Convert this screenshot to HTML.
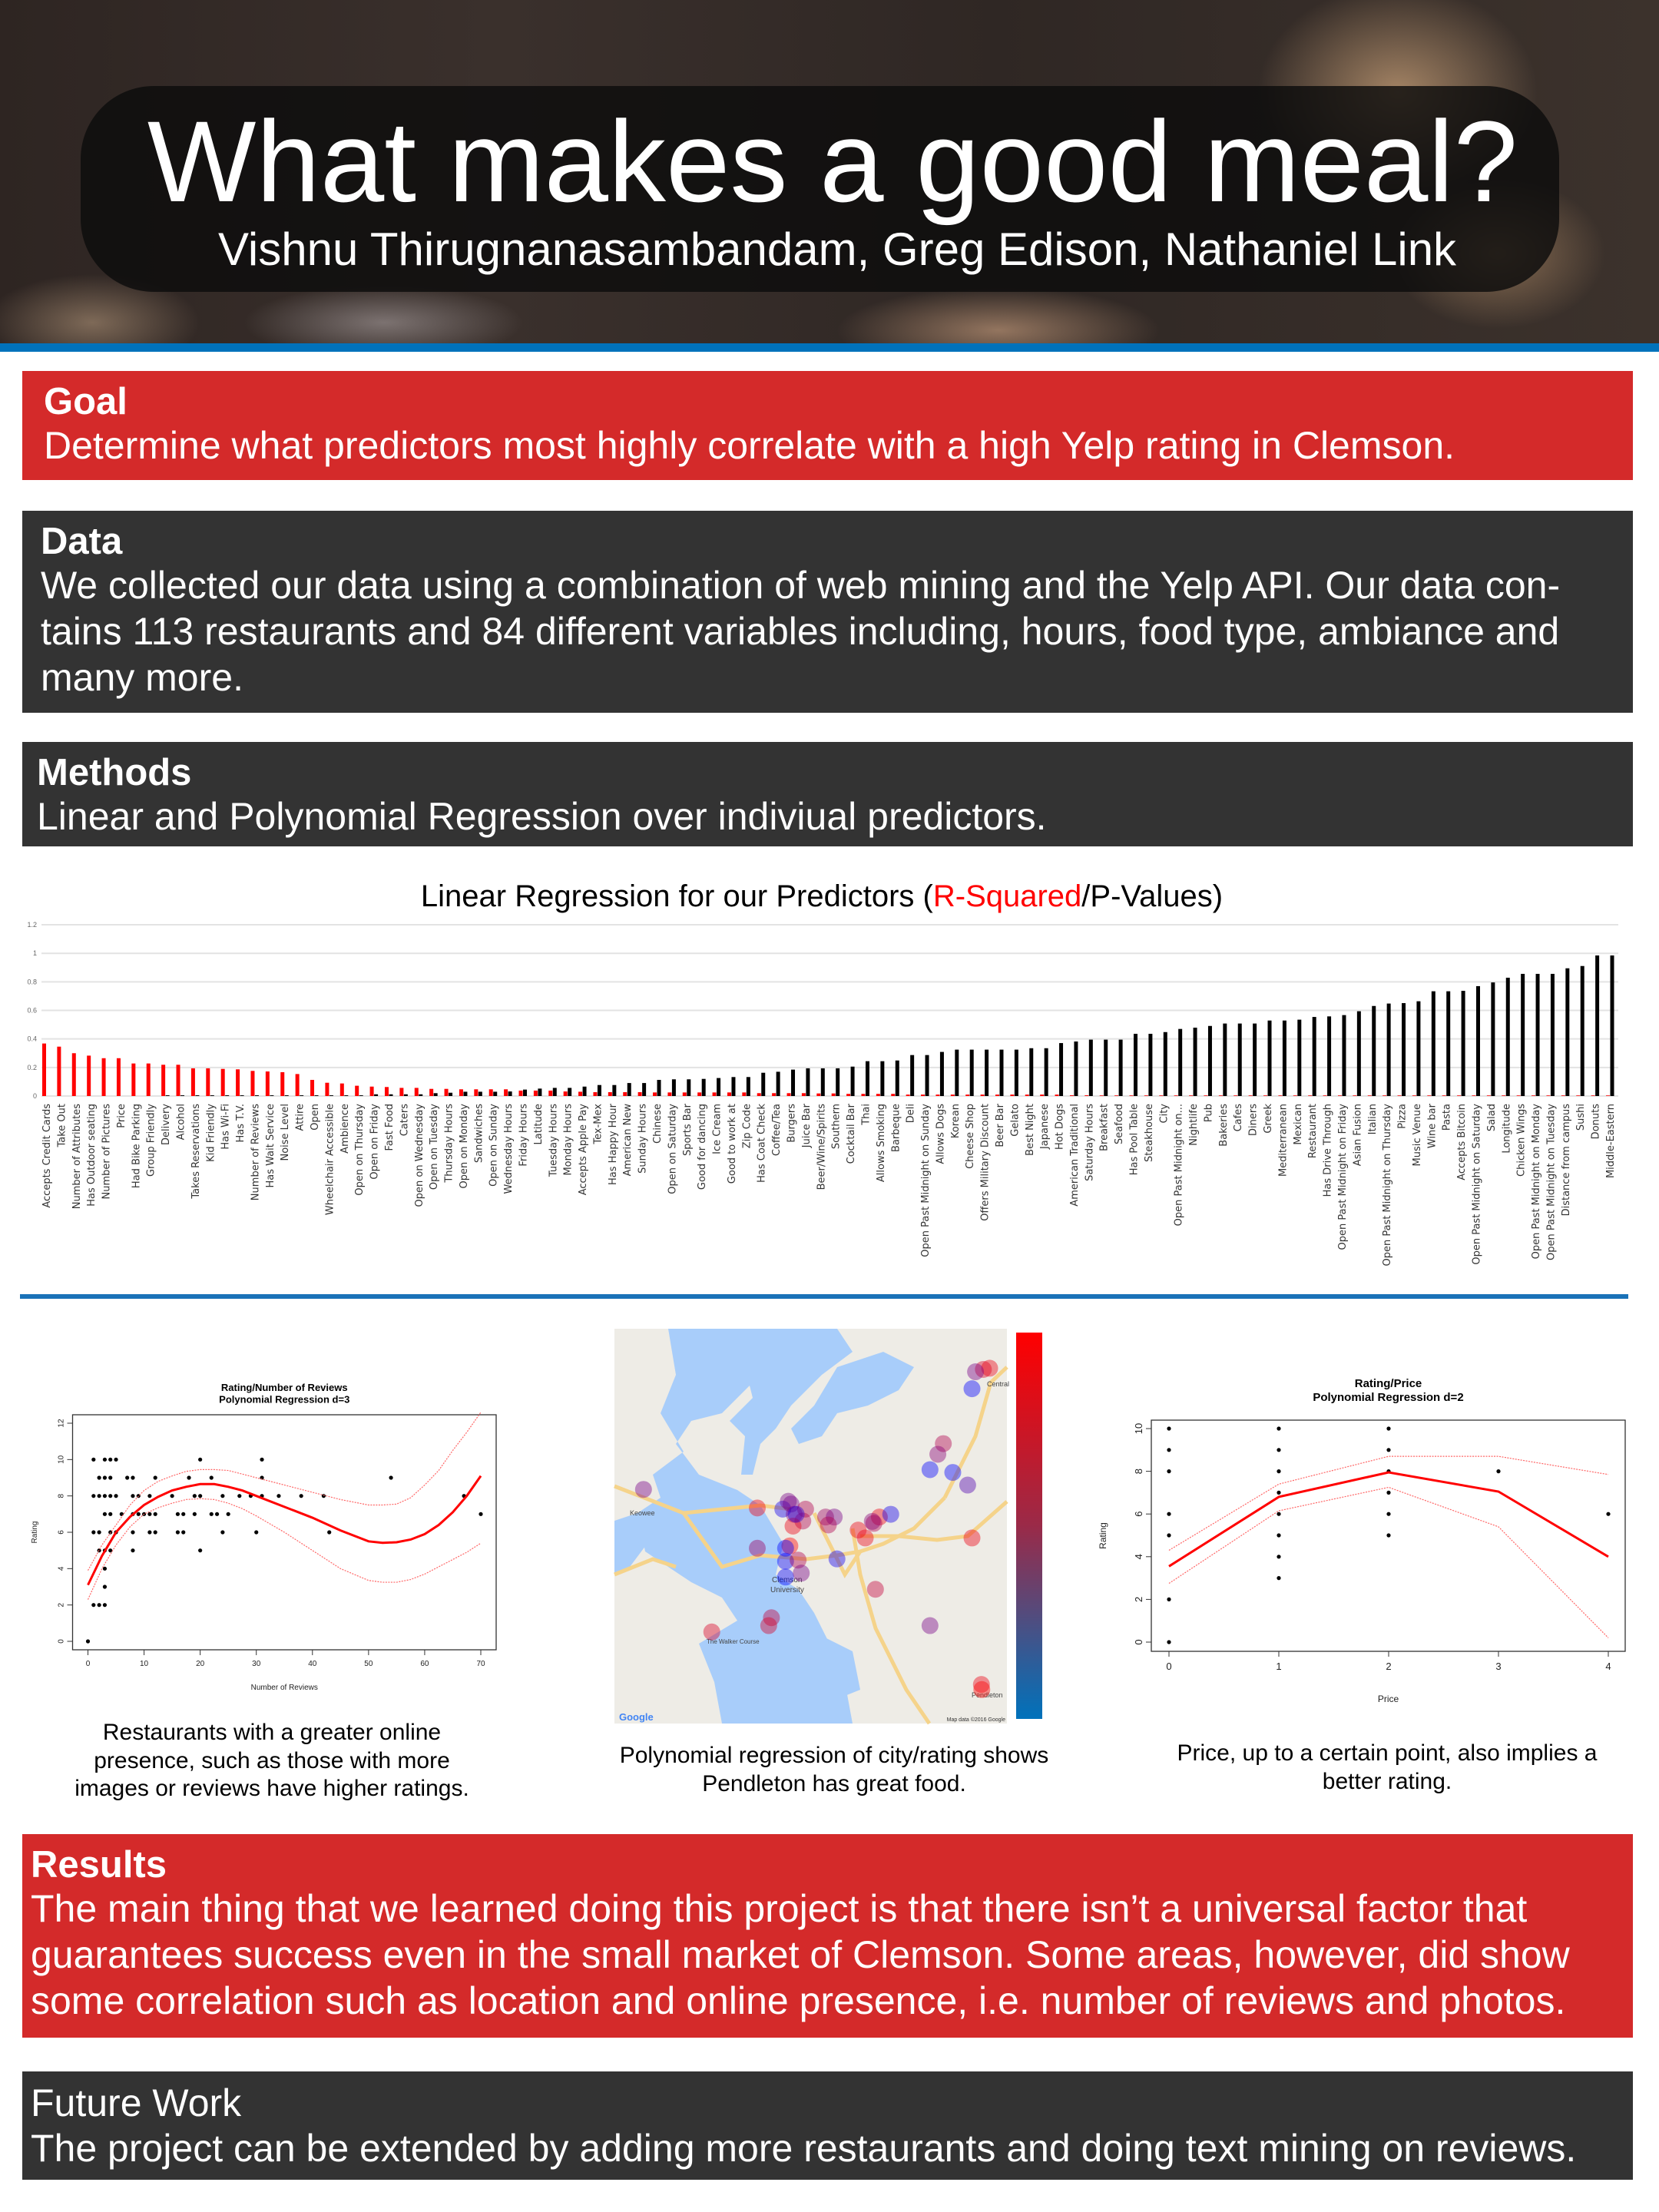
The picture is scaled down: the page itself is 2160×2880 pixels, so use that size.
<!DOCTYPE html>
<html><head><meta charset="utf-8">
<style>
*{margin:0;padding:0;box-sizing:border-box}
body{width:2160px;height:2880px;background:#fff;position:relative;overflow:hidden;font-family:"Liberation Sans",Arial,sans-serif}
.abs{position:absolute}
.hdr{left:0;top:0;width:2160px;height:447px;background:
radial-gradient(ellipse 260px 200px at 1820px 120px,rgba(200,160,120,.75),rgba(0,0,0,0) 70%),
radial-gradient(ellipse 200px 140px at 1950px 330px,rgba(190,150,110,.6),rgba(0,0,0,0) 70%),
radial-gradient(ellipse 300px 80px at 1300px 430px,rgba(190,150,120,.7),rgba(0,0,0,0) 70%),
radial-gradient(ellipse 260px 70px at 500px 420px,rgba(170,160,160,.6),rgba(0,0,0,0) 70%),
radial-gradient(ellipse 200px 90px at 120px 420px,rgba(190,160,130,.55),rgba(0,0,0,0) 70%),
linear-gradient(90deg,#2e2522 0%,#3a302c 30%,#2f2724 60%,#3c322c 100%)}
.stripe{left:0;top:447px;width:2160px;height:11px;background:#0072bb}
.tbox{left:105px;top:112px;width:1925px;height:268px;border-radius:95px;background:rgba(12,12,12,.82)}
.title{left:0;width:2160px;text-align:center;color:#fff;white-space:nowrap}
.sec{left:29px;width:2097px;color:#fff;white-space:nowrap}
.red{background:#d42a2a}
.dark{background:#333333}
.sec div{position:absolute;left:0}
.h{font-weight:bold;font-size:49px}
.t{font-size:50px}
.cap{font-size:30px;color:#000;text-align:center;white-space:nowrap;line-height:36.5px}
</style></head>
<body>
<div class="abs hdr"></div>
<div class="abs stripe"></div>
<div class="abs tbox"></div>
<div class="abs title" style="top:124px;font-size:150px;left:4px">What makes a good meal?</div>
<div class="abs title" style="top:290px;font-size:60px;left:10px">Vishnu Thirugnanasambandam, Greg Edison, Nathaniel Link</div>

<div class="abs sec red" style="top:483px;height:142px">
<div class="h" style="left:28px;top:12px">Goal</div>
<div class="t" style="left:28px;top:68px">Determine what predictors most highly correlate with a high Yelp rating in Clemson.</div>
</div>

<div class="abs sec dark" style="top:665px;height:263px">
<div class="h" style="left:24px;top:12px">Data</div>
<div class="t" style="left:24px;top:68px">We collected our data using a combination of web mining and the Yelp API. Our data con-</div>
<div class="t" style="left:24px;top:128px">tains 113 restaurants and 84 different variables including, hours, food type, ambiance and</div>
<div class="t" style="left:24px;top:188px">many more.</div>
</div>

<div class="abs sec dark" style="top:966px;height:136px">
<div class="h" style="left:19px;top:12px">Methods</div>
<div class="t" style="left:19px;top:68px">Linear and Polynomial Regression over indiviual predictors.</div>
</div>

<div class="abs" style="left:0;top:1145px;width:2140px;text-align:center;font-size:40px;white-space:nowrap">Linear Regression for our Predictors (<span style="color:#f00">R-Squared</span>/P-Values)</div>

<svg class="abs" id="bar" style="left:0;top:1180px" width="2160" height="500"></svg>

<div class="abs" style="left:26px;top:1685px;width:2094px;height:6px;background:#1a72b8"></div>

<svg class="abs" id="sc1" style="left:0;top:1780px" width="700" height="430"></svg>
<svg class="abs" id="map" style="left:790px;top:1720px" width="580" height="530"></svg>
<svg class="abs" id="sc2" style="left:1400px;top:1770px" width="740" height="480"></svg>

<div class="abs cap" style="left:84px;width:540px;top:2238px">Restaurants with a greater online<br>presence, such as those with more<br>images or reviews have higher ratings.</div>
<div class="abs cap" style="left:776px;width:620px;top:2268px">Polynomial regression of city/rating shows<br>Pendleton has great food.</div>
<div class="abs cap" style="left:1496px;width:620px;top:2265px">Price, up to a certain point, also implies a<br>better rating.</div>

<div class="abs sec red" style="top:2388px;height:265px">
<div class="h" style="left:11px;top:12px">Results</div>
<div class="t" style="left:11px;top:68px">The main thing that we learned doing this project is that there isn’t a universal factor that</div>
<div class="t" style="left:11px;top:128px">guarantees success even in the small market of Clemson. Some areas, however, did show</div>
<div class="t" style="left:11px;top:188px">some correlation such as location and online presence, i.e. number of reviews and photos.</div>
</div>

<div class="abs sec dark" style="top:2697px;height:141px">
<div class="t" style="left:11px;top:12px">Future Work</div>
<div class="t" style="left:11px;top:71px">The project can be extended by adding more restaurants and doing text mining on reviews.</div>
</div>

<script>
const cats=["Accepts Credit Cards","Take Out","Number of Attributes","Has Outdoor seating","Number of Pictures","Price","Had Bike Parking","Group Friendly","Delivery","Alcohol","Takes Reservations","Kid Friendly","Has Wi-Fi","Has T.V.","Number of Reviews","Has Wait Service","Noise Level","Attire","Open","Wheelchair Accessible","Ambience","Open on Thursday","Open on Friday","Fast Food","Caters","Open on Wednesday","Open on Tuesday","Thursday Hours","Open on Monday","Sandwiches","Open on Sunday","Wednesday Hours","Friday Hours","Latitude","Tuesday Hours","Monday Hours","Accepts Apple Pay","Tex-Mex","Has Happy Hour","American New","Sunday Hours","Chinese","Open on Saturday","Sports Bar","Good for dancing","Ice Cream","Good to work at","Zip Code","Has Coat Check","Coffee/Tea","Burgers","Juice Bar","Beer/Wine/Spirits","Southern","Cocktail Bar","Thai","Allows Smoking","Barbeque","Deli","Open Past Midnight on Sunday","Allows Dogs","Korean","Cheese Shop","Offers Military Discount","Beer Bar","Gelato","Best Night","Japanese","Hot Dogs","American Traditional","Saturday Hours","Breakfast","Seafood","Has Pool Table","Steakhouse","City","Open Past Midnight on...","Nightlife","Pub","Bakeries","Cafes","Diners","Greek","Mediterranean","Mexican","Restaurant","Has Drive Through","Open Past Midnight on Friday","Asian Fusion","Italian","Open Past Midnight on Thursday","Pizza","Music Venue","Wine bar","Pasta","Accepts Bitcoin","Open Past Midnight on Saturday","Salad","Longitude","Chicken Wings","Open Past Midnight on Monday","Open Past Midnight on Tuesday","Distance from campus","Sushi","Donuts","Middle-Eastern"];
const rsq=[.368,.346,.30,.283,.265,.265,.228,.228,.219,.219,.194,.194,.19,.187,.176,.172,.167,.154,.113,.093,.088,.072,.066,.063,.057,.057,.05,.05,.047,.047,.047,.047,.038,.038,.038,.032,
.03,.027,.027,.027,.027,.025,.025,.025,.025,.025,.025,.025,.02,.02,.02,.02,.018,.018,.015,.015,.015,.015,.01,.01,.01,.01,.01,.01,.01,.01,.01,.01,.01,.005,.005,
.004,.004,.004,.004,.004,.004,.004,.004,.004,.004,.004,.004,.004,.004,.004,.004,.004,.004,.004,.004,.004,.004,.004,.004,.004,.004,.004,.004,.004,.004,.004,.004,.004,.004,.004];
const pval=[0,0,0,0,0,0,0,0,.005,.005,.005,.005,.005,.005,.005,.005,.005,.005,.005,.005,.005,.005,.012,.012,.012,.012,.02,.023,.03,.03,.03,.032,.045,.052,.057,.057,
.066,.077,.077,.091,.091,.113,.117,.117,.12,.126,.133,.133,.163,.17,.185,.194,.194,.194,.206,.244,.244,.249,.287,.287,.309,.325,.325,.325,.325,.325,.335,.335,.371,.382,.395,
.395,.395,.436,.436,.448,.47,.479,.491,.508,.508,.508,.529,.529,.535,.554,.558,.567,.594,.631,.648,.651,.664,.734,.734,.737,.77,.796,.829,.856,.856,.856,.895,.911,.985,.985];
const barTicks=["0","0.2","0.4","0.6","0.8","1","1.2"];

const reviewsX=[0,1,1,1,1,2,2,2,2,2,3,3,3,3,3,3,3,3,4,4,4,4,4,4,5,5,5,6,7,8,8,8,8,8,9,9,10,11,11,11,12,12,12,15,16,16,17,17,18,19,19,20,20,20,22,22,23,24,24,25,27,29,30,31,31,31,34,38,42,43,54,67,70];
const reviewsY=[0,10,8,6,2,9,8,6,5,2,10,9,8,7,5,4,3,2,10,9,8,7,6,5,10,8,6,7,9,9,8,7,6,5,8,7,7,8,7,6,9,7,6,8,7,6,7,6,9,8,7,10,8,5,9,7,7,8,6,7,8,8,6,10,9,8,8,8,8,6,9,8,7];
const fitX=[0,2.5,5,7.5,10,12.5,15,17.5,20,22.5,25,27.5,30,35,40,45,50,52.5,55,57.5,60,62.5,65,67.5,70];
const fitY=[3.1,4.7,6.0,6.85,7.5,7.95,8.3,8.5,8.65,8.65,8.5,8.3,8.0,7.4,6.8,6.1,5.5,5.42,5.45,5.6,5.9,6.4,7.1,8.0,9.1];
const upY=[3.9,5.3,6.4,7.5,8.3,8.8,9.1,9.35,9.45,9.45,9.4,9.2,9.0,8.6,8.2,7.8,7.5,7.5,7.55,7.9,8.6,9.4,10.5,11.5,12.6];
const loY=[2.3,4.0,5.3,6.3,7.0,7.35,7.6,7.8,7.85,7.8,7.6,7.3,6.9,6.0,5.0,4.0,3.35,3.25,3.25,3.4,3.7,4.1,4.5,4.9,5.4];
const revTicksX=[0,10,20,30,40,50,60,70];
const ratTicks1=[0,2,4,6,8,10,12];

const priceX=[0,0,0,0,0,0,0,1,1,1,1,1,1,1,1,2,2,2,2,2,2,3,4];
const priceY=[10,9,8,6,5,2,0,10,9,8,7,6,5,4,3,10,9,8,7,6,5,8,6];
const pFitX=[0,1,2,3,4];
const pFitY=[3.55,6.8,7.95,7.05,4.0];
const pUpY=[4.3,7.4,8.7,8.7,7.85];
const pLoY=[2.75,6.15,7.25,5.4,0.2];
const priceTicks=[0,1,2,3,4];
const ratTicks2=[0,2,4,6,8,10];

const mapU=[.94,.956,.92,.911,.838,.824,.804,.862,.900,.074,.364,.429,.45,.458,.443,.487,.48,.455,.538,.56,.545,.621,.639,.675,.661,.704,.911,.447,.436,.364,.436,.468,.436,.476,.567,.665,.400,.393,.248,.804,.935,.936,.463,.657];
const mapV=[.103,.10,.109,.152,.291,.318,.357,.364,.396,.407,.454,.457,.444,.47,.437,.457,.487,.5,.477,.477,.497,.51,.53,.477,.493,.47,.53,.55,.556,.556,.589,.586,.629,.619,.583,.660,.732,.752,.768,.752,.901,.914,.470,.488];
const mapRating=[8.5,9,6,3,7.5,6.5,3,3,5,6,9,3.5,6,6,6,7.5,7.5,9,7,6,7.5,9,9,9,7.5,3.5,9,9.5,3,7,3,7.5,3,6,3.5,8,8,8.5,8.5,6,9,9.5,4,6.5];

const NS='http://www.w3.org/2000/svg';
function mk(p,t,a){const e=document.createElementNS(NS,t);for(const k in a)e.setAttribute(k,a[k]);p.appendChild(e);return e;}

// ---- bar chart ----
(function(){
const s=document.getElementById('bar');
const y0=247,yPer=185.8;
const yS=v=>y0-v*yPer;
const xS=i=>60+i*(2036/(cats.length-1));
barTicks.forEach((t,i)=>{const v=i*0.2;
 const g=mk(s,'line',{x1:54,x2:2107,y1:yS(v),y2:yS(v),stroke:'#e3e3e3','stroke-width':2});
 
 
 const tx=mk(s,'text',{x:48,y:yS(v)+3,'font-size':9,fill:'#666','text-anchor':'end','font-family':'Liberation Sans, sans-serif'});
 tx.textContent=t;
 
 
});
cats.forEach((c,i)=>{const x=xS(i);
 const r=mk(s,'rect',{x:x-5,y:yS(rsq[i]),width:5,height:Math.max(0,rsq[i]*yPer),fill:'#ff0000'});
 
 
 const b=mk(s,'rect',{x:x+0.5,y:yS(pval[i]),width:5,height:Math.max(0,pval[i]*yPer),fill:'#000'});
 
 
 const t=mk(s,'text',{x:0,y:0,transform:`translate(${x+5},${y0+10}) rotate(-90)`,'font-size':13,fill:'#333','text-anchor':'end','font-family':'DejaVu Sans, Liberation Sans, sans-serif'});
 t.textContent=c;
 
 
});
})();

// ---- generic R-style scatter ----
function rplot(id,o){
const s=document.getElementById(id);
const xS=v=>o.x0+(v-o.xmin)/(o.xmax-o.xmin)*(o.x1-o.x0);
const yS=v=>o.y0-(v-o.ymin)/(o.ymax-o.ymin)*(o.y0-o.y1);
const F='Liberation Sans, sans-serif';
let t=mk(s,'text',{x:(o.bx0+o.bx1)/2,y:o.ty,'font-size':o.tfs,'font-weight':'bold','text-anchor':'middle','font-family':F});t.textContent=o.t1;


t=mk(s,'text',{x:(o.bx0+o.bx1)/2,y:o.ty+o.tfs*1.2,'font-size':o.tfs,'font-weight':'bold','text-anchor':'middle','font-family':F});t.textContent=o.t2;


const bx=mk(s,'rect',{x:o.bx0,y:o.by0,width:o.bx1-o.bx0,height:o.by1-o.by0,fill:'none',stroke:'#333','stroke-width':1.3});


o.xt.forEach(v=>{const l=mk(s,'line',{x1:xS(v),x2:xS(v),y1:o.by1,y2:o.by1+7,stroke:'#333'});
 
 
 const tt=mk(s,'text',{x:xS(v),y:o.by1+o.fs+11,'font-size':o.fs,'text-anchor':'middle','font-family':F,fill:'#222'});tt.textContent=v;
 
 });
o.yt.forEach(v=>{const l=mk(s,'line',{x1:o.bx0-7,x2:o.bx0,y1:yS(v),y2:yS(v),stroke:'#333'});
 
 
 const tt=mk(s,'text',{x:0,y:0,transform:`translate(${o.bx0-12},${yS(v)}) rotate(-90)`,'font-size':o.fs,'text-anchor':'middle','font-family':F,fill:'#222'});tt.textContent=v;
 
 });
t=mk(s,'text',{x:(o.bx0+o.bx1)/2,y:o.xly,'font-size':o.lfs,'text-anchor':'middle','font-family':F,fill:'#222'});t.textContent=o.xl;


t=mk(s,'text',{x:0,y:0,transform:`translate(${o.yly},${(o.by0+o.by1)/2}) rotate(-90)`,'font-size':o.lfs,'text-anchor':'middle','font-family':F,fill:'#222'});t.textContent='Rating';


o.px.forEach((v,i)=>{const c=mk(s,'circle',{cx:xS(v),cy:yS(o.py[i]),r:2.6,fill:'#000'});
 
 });
const path=(ys,cl,w,d)=>mk(s,'polyline',{points:o.fx.map((v,i)=>xS(v)+','+yS(ys[i])).join(' '),fill:'none',stroke:cl,'stroke-width':w,'stroke-dasharray':d||'none'});
let p=path(o.up,'#ff6666',1.2,'2,1.5');


p=path(o.lo,'#ff6666',1.2,'2,1.5');


p=path(o.fy,'#ff0000',3);


}
rplot('sc1',{xmin:0,xmax:70,ymin:0,ymax:12,x0:114.5,x1:626,y0:357,y1:73,bx0:94.5,bx1:646,by0:62,by1:368,
 t1:'Rating/Number of Reviews',t2:'Polynomial Regression d=3',ty:31,tfs:13,fs:10,lfs:10,xl:'Number of Reviews',xly:420,yly:48,
 xt:revTicksX,yt:ratTicks1,px:reviewsX,py:reviewsY,fx:fitX,fy:fitY,up:upY,lo:loY});
rplot('sc2',{xmin:0,xmax:4,ymin:0,ymax:10,x0:122,x1:694,y0:368,y1:90,bx0:99,bx1:716,by0:79,by1:380,
 t1:'Rating/Price',t2:'Polynomial Regression d=2',ty:36,tfs:15,fs:13,lfs:12,xl:'Price',xly:446,yly:40,
 xt:priceTicks,yt:ratTicks2,px:priceX,py:priceY,fx:pFitX,fy:pFitY,up:pUpY,lo:pLoY});

// ---- map ----
(function(){
const s=document.getElementById('map');
const mx=10,my=10,mw=511,mh=514;
function el(t,a){return mk(s,t,a);}
let e=el('rect',{x:mx,y:my,width:mw,height:mh,fill:'#eeece6'});


const W='#a8cdfa';
const water=["80,10 200,10 190,80 150,120 110,130 90,160 120,200 170,220 200,240 230,290 220,330 250,350 270,380 290,420 310,470 320,524 150,524 140,470 120,420 170,390 150,360 110,340 80,320 50,300 40,250 70,230 60,200 100,170 70,120 90,70",
"200,10 300,10 320,40 280,70 260,90 240,110 220,140 200,160 190,200 175,200 180,150 160,130 190,100 180,60",
"300,60 360,40 400,60 380,90 340,110 300,120 280,150 250,160 240,140 270,110",
"10,260 40,250 60,280 30,320 10,330",
"180,420 260,400 320,430 330,480 280,500 210,490"];
water.forEach(pt=>{const w=el('polygon',{points:pt,fill:W});
 
 });
const roads=["10,215 100,250 150,245 200,240 240,245","100,250 150,320 200,305 260,310 300,305 330,300 360,290 400,270 440,230","270,250 310,330 330,300","320,270 330,330 350,400 370,440 390,480 420,524","330,280 380,280 430,285 470,280 521,235","440,230 480,150 500,80 521,60","10,330 60,310 90,320"];
roads.forEach(pt=>{const r=el('polyline',{points:pt,fill:'none',stroke:'#f5d38a','stroke-width':5});
 
 });
const lbl=[["Keowee",20,243,9],["Central",485,75,9],["Clemson",205,330,10],["University",203,343,10],["Pendleton",465,480,9],["The Walker Course",120,410,8]];
lbl.forEach(l=>{const t=el('text',{x:l[1]+mx,y:l[2]+my,'font-size':l[3],fill:'#444','font-family':'Liberation Sans, sans-serif'});t.textContent=l[0];
 
 });
let g=el('text',{x:mx+6,y:my+mh-4,'font-size':13,fill:'#4285f4','font-weight':'bold','font-family':'Liberation Sans, sans-serif'});g.textContent='Google';


g=el('text',{x:mx+mw-2,y:my+mh-3,'font-size':7,fill:'#333','text-anchor':'end','font-family':'Liberation Sans, sans-serif'});g.textContent='Map data ©2016 Google';


mapU.forEach((u,i)=>{const f=(mapRating[i]-3)/6.5;const r=Math.round(255*f),b=Math.round(255*(1-f));
 const c=el('circle',{cx:mx+u*mw,cy:my+mapV[i]*mh,r:11,fill:`rgba(${r},0,${b},0.42)`});
 
 });
const defs=el('defs',{});
const lg=mk(defs,'linearGradient',{id:'cbar',x1:0,y1:0,x2:0,y2:1});
mk(lg,'stop',{offset:'0','stop-color':'#ff0000'});
mk(lg,'stop',{offset:'0.5','stop-color':'#9a2a48'});
mk(lg,'stop',{offset:'1','stop-color':'#0072bb'});
e=el('rect',{x:533,y:15,width:34,height:503,fill:'url(#cbar)'});


})();
</script>
</body></html>
